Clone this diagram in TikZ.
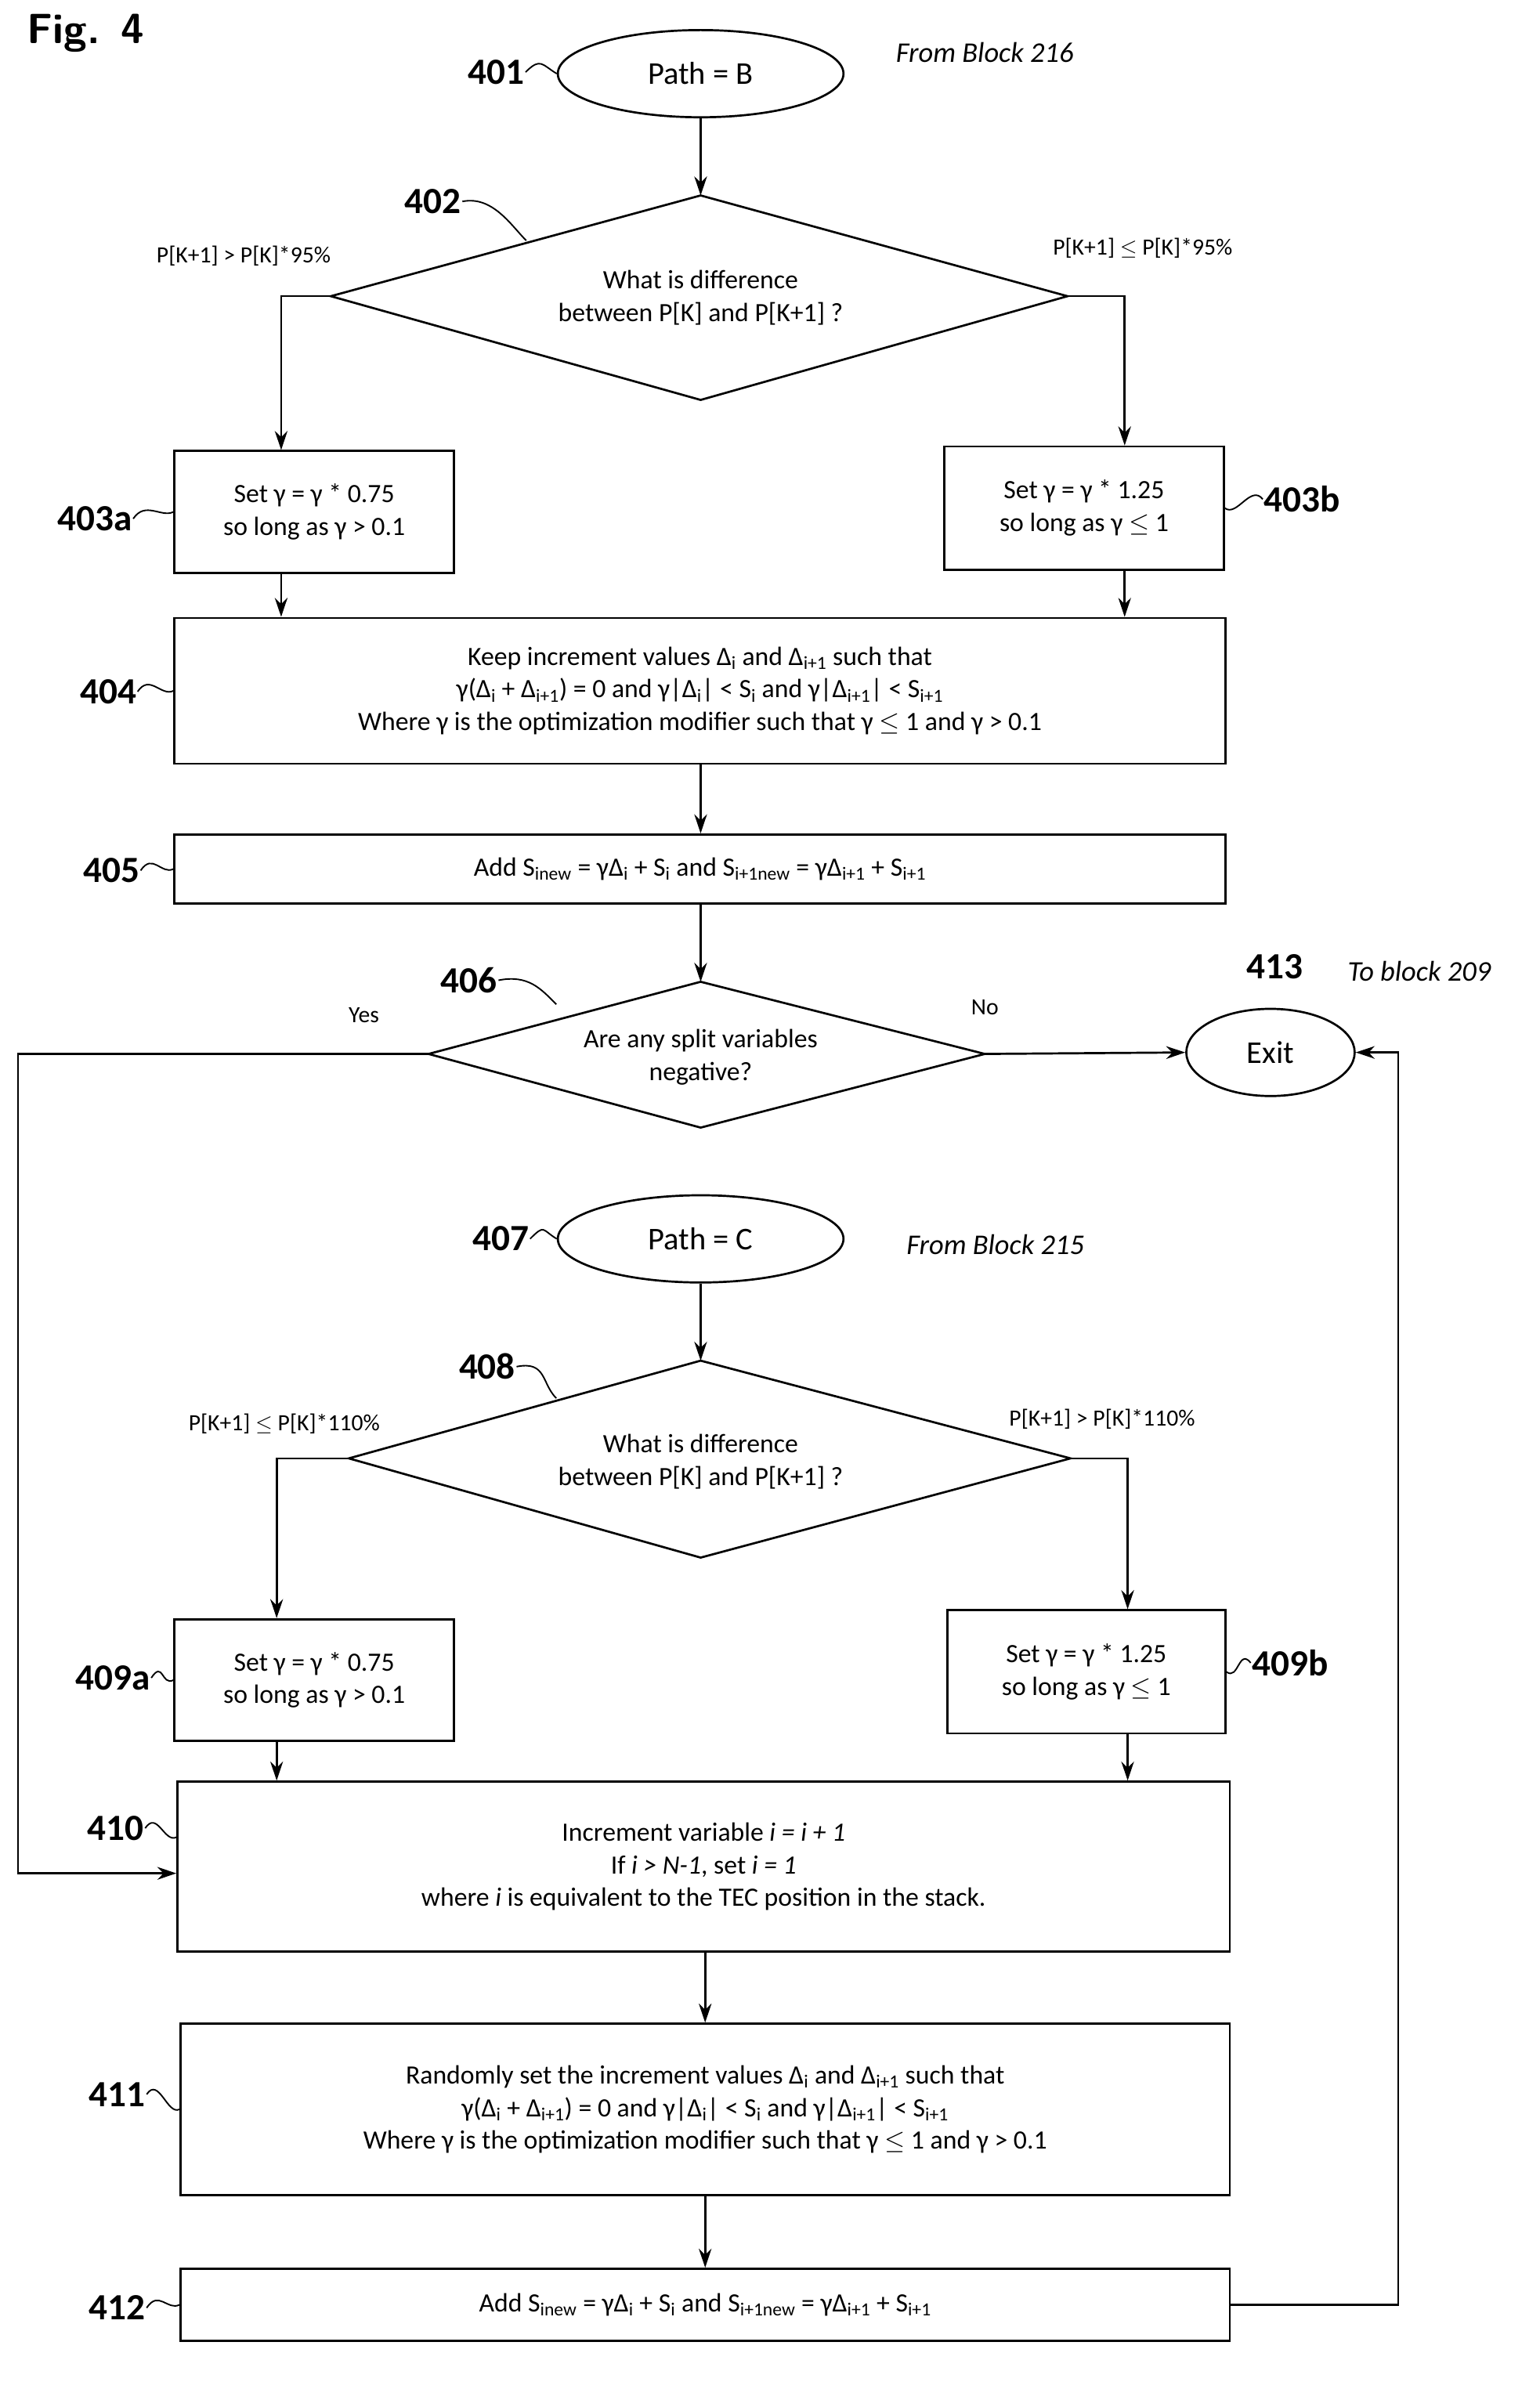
\documentclass[tikz,border=0pt]{standalone}
\usepackage{fontspec}
\setmainfont{Carlito}
\usetikzlibrary{shapes.geometric,arrows.meta}
\begin{document}
\begin{tikzpicture}[x=0.05cm,y=-0.05cm,
  every node/.style={font=\fontsize{25}{31}\selectfont, align=center},
  box/.style={draw, line width=2pt, rectangle, inner sep=0pt},
  ell/.style={draw, line width=2pt, ellipse, inner sep=0pt},
  lbl/.style={font=\fontsize{35}{40}\selectfont\bfseries, inner sep=1pt},
  note/.style={font=\fontsize{27}{31}\selectfont\itshape},
  cnd/.style={font=\fontsize{22}{26}\selectfont},
  ln/.style={line width=2pt},
  arr/.style={line width=2pt, -{Stealth[length=18pt,width=12pt]}},
  tl/.style={line width=1.4pt}]
\useasboundingbox (0,0) rectangle (1024,1589);
\node[font=\fontsize{40}{44}\selectfont\bfseries\sffamily] (fig) at (57,22) {Fig. 4};
% 401
\node[ell, minimum width=9.5cm, minimum height=2.9cm] (e401) at (466,49) {\fontsize{30}{34}\selectfont Path = B};
\node[lbl] (l401) at (330,48) {401};
\draw[tl] (l401.east) .. controls +(10,-10) and +(-10,-6) .. (e401.west);
\node[note] (f216) at (655,35) {From Block 216};
% 402
\coordinate (d2t) at (466,130); \coordinate (d2l) at (220,197);
\coordinate (d2r) at (710,197); \coordinate (d2b) at (466,266);
\draw[ln] (d2t) -- (d2r) -- (d2b) -- (d2l) -- cycle;
\node (t402) at (466,198) {What is difference\\between P[K] and P[K+1] ?};
\node[lbl] (l402) at (288,134) {402};
\draw[tl] (l402.east) .. controls +(20,-4) and +(-10,-10) .. (350,160);
\draw[arr] (e401.south) -- (d2t);
\node[cnd] (c1) at (162,170) {P[K+1] > P[K]*95\%};
\node[cnd] (c2) at (760,165) {P[K+1] $\leq$ P[K]*95\%};
% 403a, 403b
\node[box, minimum width=9.3cm, minimum height=4.05cm] (b403a) at (209,340.5) {Set γ = γ * 0.75\\so long as γ > 0.1};
\node[box, minimum width=9.3cm, minimum height=4.1cm] (b403b) at (721,338) {Set γ = γ * 1.25\\so long as γ $\leq$ 1};
\node[lbl] (l403a) at (63,345) {403a};
\draw[tl] (l403a.east) .. controls +(8,-12) and +(-8,4) .. (b403a.west);
\node[lbl] (l403b) at (866,332) {403b};
\draw[tl] (l403b.west) .. controls +(-8,-10) and +(8,6) .. (b403b.east);
\draw[arr] (d2l) -- (187,197) -- (b403a.north -| 187,0);
\draw[arr] (d2r) -- (748,197) -- (b403b.north -| 748,0);
% 404
\node[box, minimum width=34.95cm, minimum height=4.85cm] (b404) at (465.5,459.5)
 {Keep increment values Δ\textsubscript{i} and Δ\textsubscript{i+1} such that\\
  γ(Δ\textsubscript{i} + Δ\textsubscript{i+1}) = 0 and γ|Δ\textsubscript{i}| < S\textsubscript{i} and γ|Δ\textsubscript{i+1}| < S\textsubscript{i+1}\\
  Where γ is the optimization modifier such that γ $\leq$ 1 and γ > 0.1};
\node[lbl] (l404) at (72,460) {404};
\draw[tl] (l404.east) .. controls +(8,-12) and +(-8,4) .. (b404.west);
\draw[arr] (b403a.south -| 187,0) -- (b404.north -| 187,0);
\draw[arr] (b403b.south -| 748,0) -- (b404.north -| 748,0);
% 405
\node[box, minimum width=34.95cm, minimum height=2.3cm] (b405) at (465.5,578)
 {Add S\textsubscript{inew} = γΔ\textsubscript{i} + S\textsubscript{i} and S\textsubscript{i+1new} = γΔ\textsubscript{i+1} + S\textsubscript{i+1}};
\node[lbl] (l405) at (74,579) {405};
\draw[tl] (l405.east) .. controls +(8,-12) and +(-8,4) .. (b405.west);
\draw[arr] (b404.south -| 466,0) -- (b405.north -| 466,0);
% 406
\coordinate (d6t) at (466,653); \coordinate (d6l) at (285,701);
\coordinate (d6r) at (655,701); \coordinate (d6b) at (466,750);
\draw[ln] (d6t) -- (d6r) -- (d6b) -- (d6l) -- cycle;
\node (t406) at (466,703) {Are any split variables\\negative?};
\node[lbl] (l406) at (312,652) {406};
\draw[tl] (l406.east) .. controls +(20,-4) and +(-10,-10) .. (370,668);
\draw[arr] (b405.south -| 466,0) -- (d6t);
\node[cnd] (yes) at (242,675) {Yes};
\node[cnd] (no) at (655,670) {No};
% 413 Exit
\node[ell, minimum width=5.6cm, minimum height=2.9cm] (exit) at (845,700) {\fontsize{30}{34}\selectfont Exit};
\node[lbl] (l413) at (848,643) {413};
\node[note] (tb209) at (944,646) {To block 209};
\draw[arr] (d6r) -- (exit.west);
% 407
\node[ell, minimum width=9.5cm, minimum height=2.9cm] (e407) at (466,824) {\fontsize{30}{34}\selectfont Path = C};
\node[lbl] (l407) at (333,824) {407};
\draw[tl] (l407.east) .. controls +(10,-10) and +(-10,-6) .. (e407.west);
\node[note] (f215) at (662,828) {From Block 215};
% 408
\coordinate (d8t) at (466,905); \coordinate (d8l) at (232,970);
\coordinate (d8r) at (712,970); \coordinate (d8b) at (466,1036);
\draw[ln] (d8t) -- (d8r) -- (d8b) -- (d8l) -- cycle;
\node (t408) at (466,972) {What is difference\\between P[K] and P[K+1] ?};
\node[lbl] (l408) at (324,909) {408};
\draw[tl] (l408.east) .. controls +(20,-4) and +(-10,-10) .. (370,930);
\draw[arr] (e407.south) -- (d8t);
\node[cnd] (c3) at (189,947) {P[K+1] $\leq$ P[K]*110\%};
\node[cnd] (c4) at (733,944) {P[K+1] > P[K]*110\%};
% 409
\node[box, minimum width=9.3cm, minimum height=4.05cm] (b409a) at (209,1117.5) {Set γ = γ * 0.75\\so long as γ > 0.1};
\node[box, minimum width=9.25cm, minimum height=4.1cm] (b409b) at (722.5,1112) {Set γ = γ * 1.25\\so long as γ $\leq$ 1};
\node[lbl] (l409a) at (75,1116) {409a};
\draw[tl] (l409a.east) .. controls +(8,-12) and +(-8,4) .. (b409a.west);
\node[lbl] (l409b) at (858,1106) {409b};
\draw[tl] (l409b.west) .. controls +(-8,-10) and +(8,6) .. (b409b.east);
\draw[arr] (d8l) -- (184,970) -- (b409a.north -| 184,0);
\draw[arr] (d8r) -- (750,970) -- (b409b.north -| 750,0);
% 410
\node[box, minimum width=35cm, minimum height=5.65cm] (b410) at (468,1241.5)
 {Increment variable \textit{i = i + 1}\\ If \textit{i > N-1}, set \textit{i = 1}\\ where \textit{i} is equivalent to the TEC position in the stack.};
\node[lbl] (l410) at (77,1216) {410};
\draw[tl] (l410.east) .. controls +(8,-12) and +(-8,4) .. (b410.west |- 0,1222);
\draw[arr] (b409a.south -| 184,0) -- (b410.north -| 184,0);
\draw[arr] (b409b.south -| 750,0) -- (b410.north -| 750,0);
\draw[arr] (d6l) -- (12,701) -- (12,1246) -- (b410.west |- 0,1246);
% 411
\node[box, minimum width=34.9cm, minimum height=5.7cm] (b411) at (469,1403)
 {Randomly set the increment values Δ\textsubscript{i} and Δ\textsubscript{i+1} such that\\
  γ(Δ\textsubscript{i} + Δ\textsubscript{i+1}) = 0 and γ|Δ\textsubscript{i}| < S\textsubscript{i} and γ|Δ\textsubscript{i+1}| < S\textsubscript{i+1}\\
  Where γ is the optimization modifier such that γ $\leq$ 1 and γ > 0.1};
\node[lbl] (l411) at (78,1393) {411};
\draw[tl] (l411.east) .. controls +(8,-12) and +(-8,4) .. (b411.west);
\draw[arr] (b410.south -| 469,0) -- (b411.north -| 469,0);
% 412
\node[box, minimum width=34.9cm, minimum height=2.4cm] (b412) at (469,1533)
 {Add S\textsubscript{inew} = γΔ\textsubscript{i} + S\textsubscript{i} and S\textsubscript{i+1new} = γΔ\textsubscript{i+1} + S\textsubscript{i+1}};
\node[lbl] (l412) at (78,1535) {412};
\draw[tl] (l412.east) .. controls +(8,-12) and +(-8,4) .. (b412.west);
\draw[arr] (b411.south -| 469,0) -- (b412.north -| 469,0);
\draw[arr] (b412.east) -- (930,1533) -- (930,700) -- (exit.east);
\end{tikzpicture}
\end{document}
